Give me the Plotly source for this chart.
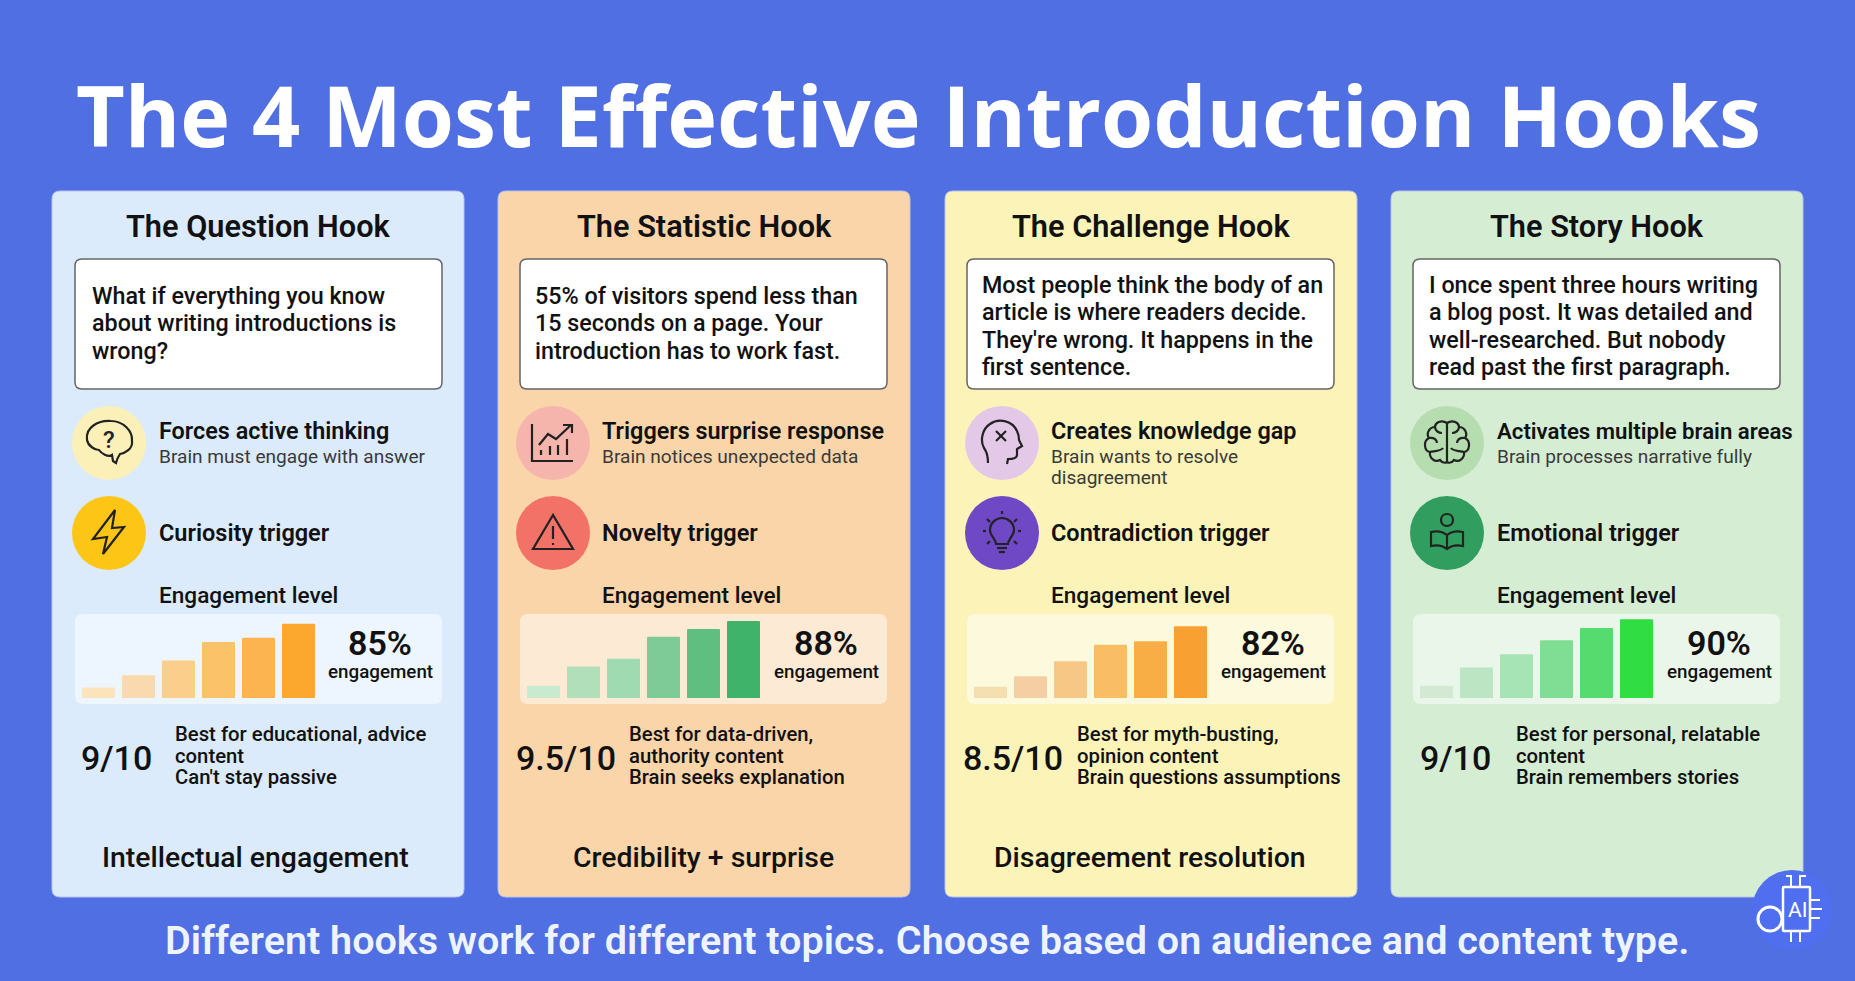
import re
import plotly.graph_objects as go

W, H = 1855, 981

# ---- data ----
title = "The 4 Most Effective Introduction Hooks"
footer = "Different hooks work for different topics. Choose based on audience and content type."
hook_names = ["The Question Hook", "The Statistic Hook", "The Challenge Hook", "The Story Hook"]
quotes = [
    ["What if everything you know", "about writing introductions is", "wrong?"],
    ["55% of visitors spend less than", "15 seconds on a page. Your", "introduction has to work fast."],
    ["Most people think the body of an", "article is where readers decide.", "They're wrong. It happens in the", "first sentence."],
    ["I once spent three hours writing", "a blog post. It was detailed and", "well-researched. But nobody", "read past the first paragraph."],
]
effects = ["Forces active thinking", "Triggers surprise response", "Creates knowledge gap", "Activates multiple brain areas"]
effect_notes = [
    ["Brain must engage with answer"],
    ["Brain notices unexpected data"],
    ["Brain wants to resolve", "disagreement"],
    ["Brain processes narrative fully"],
]
triggers = ["Curiosity trigger", "Novelty trigger", "Contradiction trigger", "Emotional trigger"]
bar_steps = [1, 2, 3, 4, 5, 6]
question_bars = [12, 26, 43, 64, 69, 85]
statistic_bars = [14, 36, 45, 70, 79, 88]
challenge_bars = [13, 25, 42, 61, 65, 82]
story_bars = [14, 35, 50, 66, 80, 90]
engagement = ["85%", "88%", "82%", "90%"]
scores = ["9/10", "9.5/10", "8.5/10", "9/10"]
best_for = [
    ["Best for educational, advice", "content", "Can't stay passive"],
    ["Best for data-driven,", "authority content", "Brain seeks explanation"],
    ["Best for myth-busting,", "opinion content", "Brain questions assumptions"],
    ["Best for personal, relatable", "content", "Brain remembers stories"],
]
closers = ["Intellectual engagement", "Credibility + surprise", "Disagreement resolution", ""]

# ---- styling ----
bg = "#506FE2"
ink = "#111111"
card_fill = ["#DBEBFC", "#FBD5AA", "#FBF3B8", "#D5EDD3"]
circle_a = ["#FAF0B8", "#F5B5AC", "#E3C8E8", "#B5DDB0"]
circle_b = ["#FDC515", "#F37268", "#6E48C5", "#319E60"]
orange = ["#FBE4BC", "#FAD9AE", "#FBCF8B", "#FBC26A", "#FBB450", "#FCA82F"]
orange2 = ["#F5DFB0", "#F5CFA3", "#F7C785", "#F8BD65", "#F8AD45", "#F8A032"]
green = ["#C8EBD0", "#B0DFBA", "#9FDAB0", "#7FCB97", "#5FBF80", "#3FB36A"]
lime = ["#D3E9D3", "#BCE6C3", "#A6E4B6", "#7FDE93", "#55DB6E", "#30DD42"]
bar_colors = [orange, green, orange2, lime]
all_bars = [question_bars, statistic_bars, challenge_bars, story_bars]

card_left = [52, 498, 945, 1391]
box_left = [75, 520, 967, 1413]
quote_x = [91, 534, 981, 1428]
icon_x = [109, 553, 1002, 1447]
label_x = [158, 601, 1050, 1496]
effect_size = [23.4, 23.4, 23.4, 22.2]
pct_x = [380, 826, 1273, 1719]
score_x = [116, 566, 1013, 1455]
desc_x = [174, 628, 1076, 1515]
closer_x = [255, 703, 1150, 1597]

# icons, drawn round (0, 0) in pixels
icon_top = [
    ["M -22 -3 C -24 -16 -10 -23 2 -22 C 14 -22 24 -12 23 -2 C 24 6 16 10 11 11 C 9 14 8 16 7 20 L 4 18 L 3 12 C -1 15 -8 10 -10 7 C -14 7 -21 3 -22 -3 Z"],
    ["M -21 -19 L -21 18 L 20 18", "M -14 2 L -5 -9 L 3 -4 L 18 -18", "M 10 -18 L 19 -18 L 19 -10",
     "M -12 7 L -12 12", "M -3 3 L -3 12", "M 5 2 L 5 12", "M 14 -4 L 14 12"],
    ["M -14 20 C -14 12 -15 9 -18 5 C -22 -2 -20 -14 -12 -19 C -4 -25 10 -23 15 -12 C 17 -8 17 -4 17 -3 L 20 3 L 15 6 L 15 12 C 15 15 12 16 6 16 L 5 21",
     "M -6 -12 L 4 -2", "M 4 -12 L -6 -2"],
    ["M 0 -20 C -6 -24 -12 -20 -12 -16 C -18 -16 -21 -9 -18 -5 C -24 -2 -23 8 -17 9 C -18 15 -12 20 -7 17 C -4 21 0 20 0 18",
     "M 0 -20 C 6 -24 12 -20 12 -16 C 18 -16 21 -9 18 -5 C 24 -2 23 8 17 9 C 18 15 12 20 7 17 C 4 21 0 20 0 18",
     "M 0 -20 L 0 18", "M -18 -5 C -13 -6 -10 -3 -10 0", "M -12 -16 C -12 -12 -8 -10 -5 -10", "M -17 9 C -12 8 -6 8 -4 5",
     "M 18 -5 C 13 -6 10 -3 10 0", "M 12 -16 C 12 -12 8 -10 5 -10", "M 17 9 C 12 8 6 8 4 5"],
]
icon_bottom = [
    ["M 6 -23 L -16 6 L -2 4 L -6 21 L 15 -6 L 3 -5 Z"],
    ["M 0 -18 L -20 16 L 20 16 Z", "M 0 -7 L 0 6", "M 0 10 L 0 12"],
    ["M -6 11 C -6 6 -12 3 -12 -3 C -12 -10 -6 -15 0 -15 C 6 -15 12 -10 12 -3 C 12 3 6 6 6 11 Z",
     "M -5 15 L 5 15", "M -3 19 L 3 19", "M 0 -22 L 0 -19", "M -15 -14 L -12 -11", "M 15 -14 L 12 -11",
     "M -19 -2 L -16 -2", "M 19 -2 L 16 -2", "M -15 11 L -12 8", "M 15 11 L 12 8"],
    ["M -6 -13 C -6 -21 6 -21 6 -13 C 6 -5 -6 -5 -6 -13 Z",
     "M 0 2 C -5 -2 -12 -2 -16 -1 L -16 13 C -12 12 -5 12 0 16 C 5 12 12 12 16 13 L 16 -1 C 12 -2 5 -2 0 2 L 0 16"],
]


def shift(path, cx, cy):
    def move(m):
        return f"{float(m.group(1)) + cx} {float(m.group(2)) + cy}"
    return re.sub(r"(-?[\d.]+) (-?[\d.]+)", move, path)


def rrect(x0, y0, x1, y1, r):
    return (f"M {x0 + r} {y0} L {x1 - r} {y0} Q {x1} {y0} {x1} {y0 + r} L {x1} {y1 - r} "
            f"Q {x1} {y1} {x1 - r} {y1} L {x0 + r} {y1} Q {x0} {y1} {x0} {y1 - r} L {x0} {y0 + r} "
            f"Q {x0} {y0} {x0 + r} {y0} Z")


shapes = []
annots = []


def add_path(path, fill=None, line=None, width=0):
    s = dict(type="path", path=path, xref="x", yref="y", layer="below", line=dict(width=width))
    if fill:
        s["fillcolor"] = fill
    if line:
        s["line"]["color"] = line
    shapes.append(s)


def add_circle(cx, cy, r, fill=None, line=None, width=0):
    s = dict(type="circle", x0=cx - r, x1=cx + r, y0=cy - r, y1=cy + r, xref="x", yref="y",
             layer="below", line=dict(width=width))
    if fill:
        s["fillcolor"] = fill
    if line:
        s["line"]["color"] = line
    shapes.append(s)


def text(x, base, s, size, weight=500, color=ink, anchor="left", family="Roboto", up=0.345):
    annots.append(dict(x=x, y=base - up * size, text=s, xref="x", yref="y", showarrow=False,
                       xanchor=anchor, yanchor="middle", borderpad=0,
                       font=dict(family=family, size=size, weight=weight, color=color)))


fig = go.Figure()

for i in range(4):
    L = card_left[i]
    add_path(rrect(L, 191, L + 412, 897, 8), fill=card_fill[i], line="#B9C4EA", width=1)
    bx = box_left[i]
    add_path(rrect(bx, 259, bx + 367, 389, 7), fill="#FFFFFF", line="#666666", width=1.5)
    add_path(rrect(bx, 614, bx + 367, 704, 8), fill="rgba(255,255,255,0.5)")

    text(L + 206, 237, hook_names[i], 30.7, 600, anchor="center")
    first = 304 if len(quotes[i]) == 3 else 293
    for k, line in enumerate(quotes[i]):
        text(quote_x[i], first + k * 27.3, line, 23.3, 500)

    # icon circles
    add_circle(icon_x[i], 443, 37, fill=circle_a[i])
    add_circle(icon_x[i], 533, 37, fill=circle_b[i])
    for p in icon_top[i]:
        add_path(shift(p, icon_x[i], 443), line="#222222", width=2.2)
    for p in icon_bottom[i]:
        add_path(shift(p, icon_x[i], 533), line="#222222", width=2.2)

    text(label_x[i], 439, effects[i], effect_size[i], 600)
    for k, line in enumerate(effect_notes[i]):
        text(label_x[i], 463 + k * 21, line, 19.1, 400, color="#3A3A3A")
    text(label_x[i], 541, triggers[i], 23.5, 600)
    text(label_x[i], 603, "Engagement level", 22.6, 500)

    text(pct_x[i], 655, engagement[i], 34, 600, anchor="center")
    text(pct_x[i], 678, "engagement", 18.8, 500, anchor="center")
    text(score_x[i], 770, scores[i], 34, 500, anchor="center")
    for k, line in enumerate(best_for[i]):
        text(desc_x[i], 741 + k * 21.5, line, 20.3, 500)
    if closers[i]:
        text(closer_x[i], 867, closers[i], 28.4, 500, anchor="center")

    # bars on their own little axes
    ax = i + 2
    fig.add_trace(go.Bar(x=bar_steps, y=all_bars[i], marker=dict(color=bar_colors[i], line=dict(width=0), cornerradius=1),
                         width=0.825, xaxis=f"x{ax}", yaxis=f"y{ax}", hoverinfo="skip", showlegend=False))
    x0 = bx + 3.5
    fig.update_layout({
        f"xaxis{ax}": dict(domain=[x0 / W, (x0 + 240) / W], range=[0.5, 6.5], visible=False, fixedrange=True, anchor=f"y{ax}"),
        f"yaxis{ax}": dict(domain=[(H - 698) / H, (H - 614) / H], range=[0, 96.1], visible=False, fixedrange=True, anchor=f"x{ax}"),
    })

# title and footer
text(W / 2 - 9, 147, title, 84.4, 700, color="#FFFFFF", anchor="center", family="Open Sans", up=0.388)
text(927, 954, footer, 39.5, 600, color="#EEF4FF", anchor="center")

# question mark inside the first icon
text(icon_x[0], 443 + 5, "?", 24, 500, color="#222222", anchor="center")

# logo bottom right
add_circle(1792, 910, 40, fill="#4F6FF0")
add_circle(1770, 919, 12, line="#FFFFFF", width=3)
add_path(rrect(1783, 887, 1810, 931, 1), fill="#4F6FF0", line="#FFFFFF", width=2.5)
for p in ["M 1791 887 L 1791 876 L 1786 876", "M 1800 887 L 1800 876 L 1806 876", "M 1791 931 L 1791 942", "M 1800 931 L 1800 942",
          "M 1810 900 L 1820 900", "M 1810 909 L 1822 909", "M 1810 918 L 1820 918"]:
    add_path(p, line="#FFFFFF", width=2)
text(1797, 917, "AI", 21, 400, color="#FFFFFF", anchor="center")

fig.update_layout(
    width=W, height=H,
    margin=dict(l=0, r=0, t=0, b=0),
    paper_bgcolor=bg, plot_bgcolor="rgba(0,0,0,0)",
    xaxis=dict(range=[0, W], domain=[0, 1], visible=False, fixedrange=True),
    yaxis=dict(range=[H, 0], domain=[0, 1], visible=False, fixedrange=True),
    shapes=shapes, annotations=annots, showlegend=False, barmode="overlay",
)
fig.write_html("out.html", config=dict(displayModeBar=False),
               post_script="document.body.style.margin='0';document.body.style.overflow='hidden';")
